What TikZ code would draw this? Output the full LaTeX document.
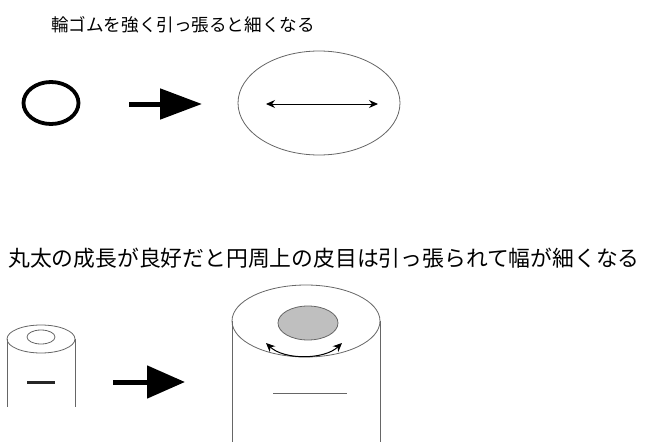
\documentclass[tikz,border=0pt]{standalone}
\usepackage{fontspec}
\newfontfamily\jpfont{Noto Sans CJK JP}
\usetikzlibrary{arrows.meta}

\begin{document}
\begin{tikzpicture}[x=1pt,y=-1pt,
    thinline/.style={draw=black!60,line width=0.8pt},
    fatarrow/.style={line width=5pt,-{Triangle[length=42pt,width=30pt]}},
    pullarrow/.style={line width=1pt,{Stealth[length=9pt,width=8pt]}-{Stealth[length=9pt,width=8pt]}}]
    \useasboundingbox (0,0) rectangle (646,442);

    % headings
    \node (band title) at (183,25) {\jpfont\fontsize{17.6}{19}\selectfont 輪ゴムを強く引っ張ると細くなる};
    \node (log title) at (324,258) {\jpfont\fontsize{21.8}{24}\selectfont 丸太の成長が良好だと円周上の皮目は引っ張られて幅が細くなる};

    % rubber band, loose and stretched
    \draw[line width=3.8pt] (51,103) ellipse (27.5pt and 21pt);
    \coordinate (band from) at (129,104);
    \coordinate (band to) at (202,104);
    \draw[fatarrow] (band from) -- (band to);
    \draw[thinline] (319,103) ellipse (81pt and 52pt);
    \coordinate (pull left) at (266,104);
    \coordinate (pull right) at (378,104);
    \draw[pullarrow] (pull left) -- (pull right);

    % young log
    \draw[thinline] (41,339) ellipse (34pt and 14pt);
    \draw[thinline] (41,337) ellipse (14pt and 7pt);
    \draw[thinline] (7,339) -- (7,407);
    \draw[thinline] (75,339) -- (75,407);
    \draw[line width=3pt,black!85] (27,382) -- (55,382);

    \coordinate (log from) at (113,382);
    \coordinate (log to) at (185,382);
    \draw[line width=5pt,-{Triangle[length=38pt,width=32pt]}] (log from) -- (log to);

    % grown log
    \draw[thinline] (306,321) ellipse (74pt and 36pt);
    \draw[thinline,fill=black!25] (308,323) ellipse (30pt and 17pt);
    \draw[thinline] (232,321) -- (232,442);
    \draw[thinline] (380,321) -- (380,442);
    \coordinate (bark left) at (266,343);
    \coordinate (bark right) at (342,343);
    \draw[pullarrow] (bark left) .. controls (284,360) and (324,360) .. (bark right);
    \draw[thinline] (273,393) -- (347,393);
\end{tikzpicture}
\end{document}
